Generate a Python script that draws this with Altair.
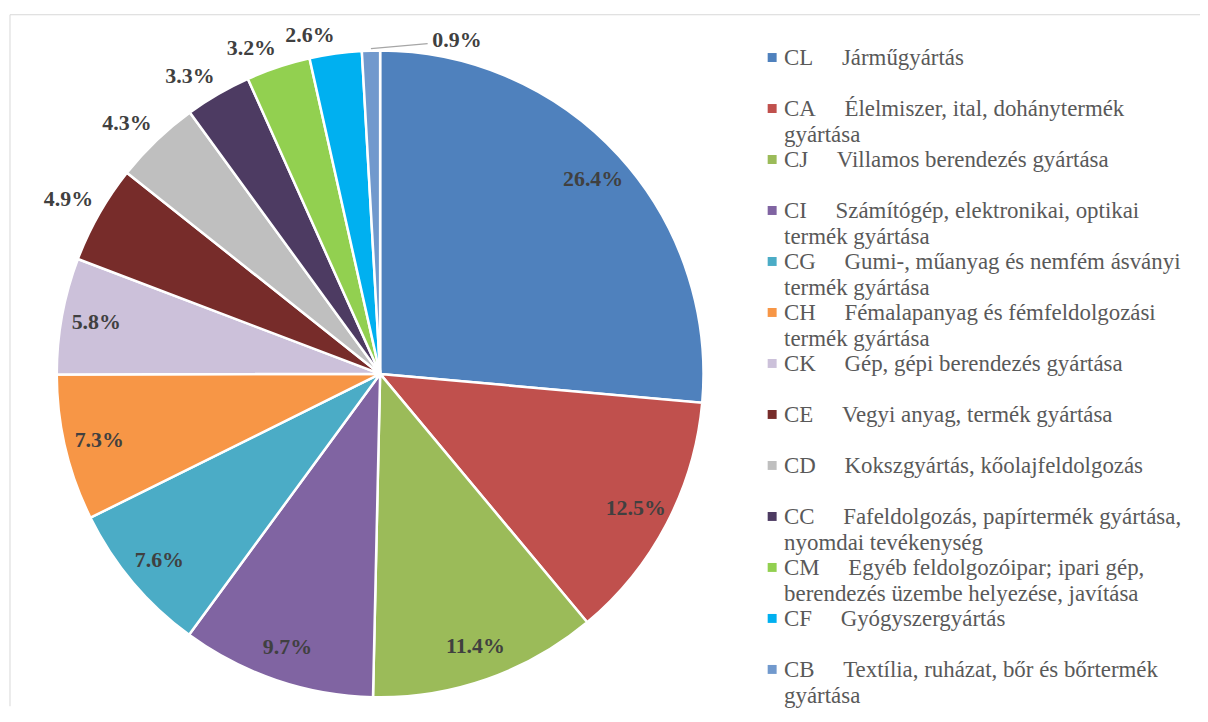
import math
import altair as alt
import pandas as pd

# ---- data ----
codes = ["CL", "CA", "CJ", "CI", "CG", "CH", "CK", "CE", "CD", "CC", "CM", "CF", "CB"]
names = [
    "Járműgyártás",
    "Élelmiszer, ital, dohánytermék\ngyártása",
    "Villamos berendezés gyártása",
    "Számítógép, elektronikai, optikai\ntermék gyártása",
    "Gumi-, műanyag és nemfém ásványi\ntermék gyártása",
    "Fémalapanyag és fémfeldolgozási\ntermék gyártása",
    "Gép, gépi berendezés gyártása",
    "Vegyi anyag, termék gyártása",
    "Kokszgyártás, kőolajfeldolgozás",
    "Fafeldolgozás, papírtermék gyártása,\nnyomdai tevékenység",
    "Egyéb feldolgozóipar; ipari gép,\nberendezés üzembe helyezése, javítása",
    "Gyógyszergyártás",
    "Textília, ruházat, bőr és bőrtermék\ngyártása",
]
values = [26.4, 12.5, 11.4, 9.7, 7.6, 7.3, 5.8, 4.9, 4.3, 3.3, 3.2, 2.6, 0.9]
colors = ["#4F81BD", "#C0504D", "#9BBB59", "#8064A2", "#4BACC6", "#F79646",
          "#CCC1DA", "#772C2A", "#BFBFBF", "#4D3B62", "#92D050", "#00B0F0", "#7199CD"]

GAP = "\u2003\u2005"
df = pd.DataFrame({"code": codes, "name": names, "value": values,
                   "idx": list(range(len(codes)))})
df["legend"] = [c + GAP + n for c, n in zip(codes, names)]
pct = [f"{v:.1f}%" for v in values]
df["lab_in"] = [p if v >= 5 else "" for p, v in zip(pct, values)]
df["lab_out"] = [p if 1 <= v < 5 else "" for p, v in zip(pct, values)]
df["lab_tiny"] = [p if v < 1 else "" for p, v in zip(pct, values)]

# ---- layout ----
W, H = 1196, 695
CX, CY, R = 372, 361, 325
total = sum(values)
SERIF = "Liberation Serif, Times New Roman, serif"

base = alt.Chart(df)
theta = alt.Theta("value:Q", stack=True)
order = alt.Order("idx:Q", sort="ascending")
color = alt.Color("code:N", scale=alt.Scale(domain=codes, range=colors), legend=None)
cx, cy = alt.value(CX), alt.value(CY)

pie = base.mark_arc(outerRadius=R, stroke="white", strokeWidth=2.5).encode(
    theta=theta, order=order, color=color, x=cx, y=cy)

lab = dict(font=SERIF, fontSize=22, fontWeight="bold", color="#404040")
inside = base.mark_text(radius=290, align="center", baseline="middle", **lab).encode(
    theta=theta, order=order, detail="code:N", x=cx, y=cy, text="lab_in:N")
outside = base.mark_text(radius=332, align="right", baseline="bottom", **lab).encode(
    theta=theta, order=order, detail="code:N", x=cx, y=cy, text="lab_out:N")
tiny = base.mark_text(radius=336, align="left", baseline="middle", dx=62, **lab).encode(
    theta=theta, order=order, detail="code:N", x=cx, y=cy, text="lab_tiny:N")

one = pd.DataFrame({"a": [0]})
layers = []
# frame (top & left edges of the chart area)
layers.append(alt.Chart(one).mark_rule(color="#D9D9D9", strokeWidth=1).encode(
    x=alt.value(0), x2=alt.value(W), y=alt.value(0)))
layers.append(alt.Chart(one).mark_rule(color="#D9D9D9", strokeWidth=1).encode(
    x=alt.value(0), y=alt.value(0), y2=alt.value(H)))
layers += [pie, inside, outside, tiny]

# leader lines for tiny slices (computed from the data)
cum = 0.0
for v in values:
    if v < 1:
        a = 2 * math.pi * (cum + v / 2) / total
        x0 = CX + (R + 2) * math.sin(a)
        y0 = CY - (R + 2) * math.cos(a)
        layers.append(alt.Chart(one).mark_rule(color="#A6A6A6", strokeWidth=1.3).encode(
            x=alt.value(x0), y=alt.value(y0), x2=alt.value(x0 + 57), y2=alt.value(y0 - 5)))
    cum += v

# legend
ysc = alt.Y("code:N", sort=codes,
            scale=alt.Scale(type="point", domain=codes, range=[43, 658], padding=0),
            axis=None)
leg_sq = base.mark_square(size=81, opacity=1).encode(
    y=ysc, x=alt.value(766), color=color)
leg_tx = base.mark_text(align="left", baseline="alphabetic", dy=7.5, lineBreak="\n",
                        lineHeight=26, font=SERIF, fontSize=23,
                        color="#595959").encode(
    y=ysc, x=alt.value(778), text="legend:N")
layers += [leg_sq, leg_tx]

chart = alt.layer(*layers).properties(
    width=W, height=H,
    autosize=alt.AutoSizeParams(type="none"),
    padding={"left": 2, "top": 5, "right": 0, "bottom": 0},
    background="white",
).configure_view(stroke=None)

chart.save("out.html", embed_options={"renderer": "svg", "actions": False})
